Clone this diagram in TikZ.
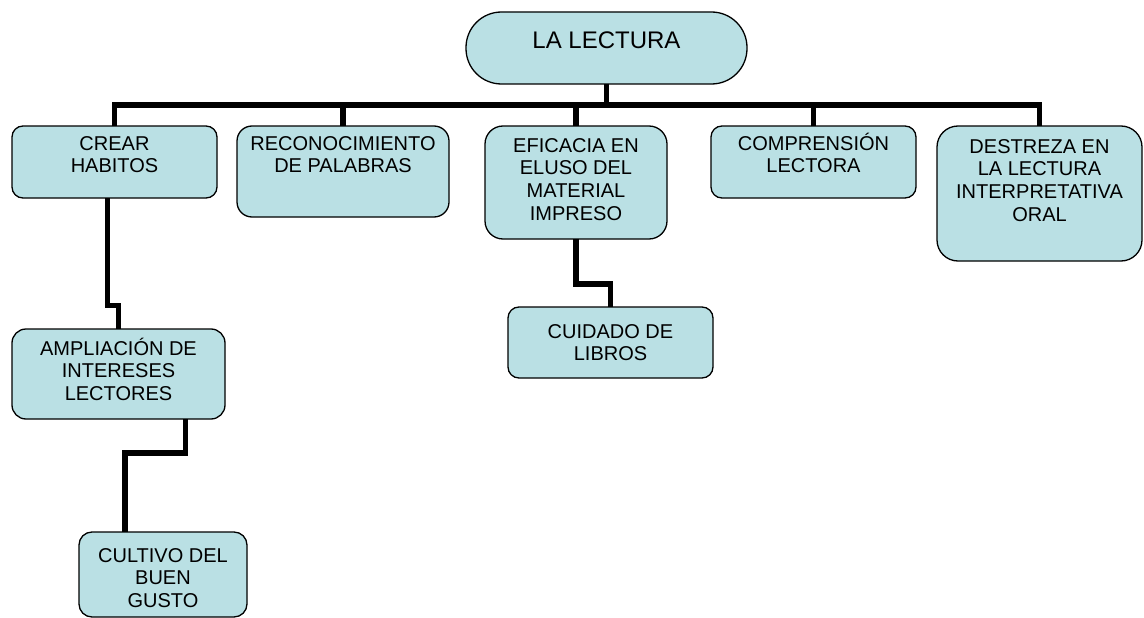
\documentclass[tikz,border=0pt]{standalone}
\usepackage{fontspec}
\setmainfont{Liberation Sans}
\definecolor{boxfill}{RGB}{186,224,228}
\begin{document}
\begin{tikzpicture}[x=1pt,y=-1pt,
  box/.style={draw=black, line width=1.3pt, fill=boxfill, inner sep=0pt, outer sep=0pt, rectangle},
  lbl/.style={inner sep=0pt, anchor=north, align=center, font=\fontsize{20}{22.7}\selectfont},
  conn/.style={line width=5.5pt, line join=miter, line cap=rect}]
\useasboundingbox (0,0) rectangle (1144,618);
\fill[white] (0,0) rectangle (1144,618);
% connectors (behind boxes)
\coordinate (bus) at (607,105);
\node[box, minimum width=281pt, minimum height=72pt, rounded corners=35.5pt] (root) at (606.5,48) {};
\node[box, minimum width=205pt, minimum height=72pt, rounded corners=11pt] (crear) at (114.5,162) {};
\node[box, minimum width=212pt, minimum height=91pt, rounded corners=15pt] (recon) at (343,171.5) {};
\node[box, minimum width=182pt, minimum height=113pt, rounded corners=18pt] (efic) at (576,182.5) {};
\node[box, minimum width=205pt, minimum height=72pt, rounded corners=11pt] (compr) at (813.5,162) {};
\node[box, minimum width=205pt, minimum height=135pt, rounded corners=21pt] (destr) at (1039.5,193.5) {};
\node[box, minimum width=213pt, minimum height=90pt, rounded corners=14pt] (ampl) at (118.5,374) {};
\node[box, minimum width=205pt, minimum height=71pt, rounded corners=11pt] (cuid) at (610.5,342.5) {};
\node[box, minimum width=168pt, minimum height=85pt, rounded corners=13pt] (cult) at (163,574.5) {};
\begin{scope}[on background layer/.style={}]
\draw[conn, line cap=butt] (root.south) -- (root.south |- bus);
\draw[conn, line cap=butt] (crear.north) -- (crear.north |- bus) -- (destr.north |- bus) -- (destr.north);
\draw[conn, line cap=butt] (recon.north) -- (recon.north |- bus);
\draw[conn, line cap=butt] (efic.north) -- (efic.north |- bus);
\draw[conn, line cap=butt] (compr.north) -- (compr.north |- bus);
\draw[conn, line cap=butt] ([xshift=-7pt]crear.south) -- ++(0,107.5) -| (ampl.north);
\draw[conn, line cap=butt] ([xshift=67pt]ampl.south) -- ++(0,34) -| ([xshift=-38pt]cult.north);
\draw[conn, line cap=butt] (efic.south) -- ++(0,45) -| (cuid.north);
\end{scope}
% texts
\node[lbl, font=\fontsize{24}{27}\selectfont] (root-t) at ([yshift=-17.5pt]root.north) {\rule{0pt}{19pt}LA LECTURA};
\node[lbl] (crear-t) at ([yshift=-5pt]crear.north) {\rule{0pt}{19pt}CREAR\\HABITOS};
\node[lbl] (recon-t) at ([yshift=-5pt]recon.north) {\rule{0pt}{19pt}RECONOCIMIENTO\\DE PALABRAS};
\node[lbl] (efic-t) at ([yshift=-7pt]efic.north) {\rule{0pt}{19pt}EFICACIA EN\\ELUSO DEL\\MATERIAL\\IMPRESO};
\node[lbl] (compr-t) at ([yshift=-5pt]compr.north) {\rule{0pt}{19pt}COMPRENSIÓN\\LECTORA};
\node[lbl] (destr-t) at ([yshift=-8pt]destr.north) {\rule{0pt}{19pt}DESTREZA EN\\LA LECTURA\\INTERPRETATIVA\\ORAL};
\node[lbl] (ampl-t) at ([yshift=-7pt]ampl.north) {\rule{0pt}{19pt}AMPLIACIÓN DE\\INTERESES\\LECTORES};
\node[lbl] (cuid-t) at ([yshift=-12pt]cuid.north) {\rule{0pt}{19pt}CUIDADO DE\\LIBROS};
\node[lbl] (cult-t) at ([yshift=-11pt]cult.north) {\rule{0pt}{19pt}CULTIVO DEL\\BUEN\\GUSTO};
\end{tikzpicture}
\end{document}
